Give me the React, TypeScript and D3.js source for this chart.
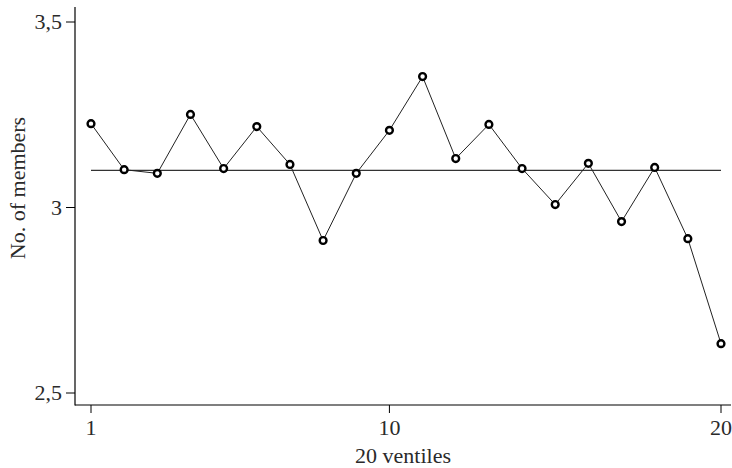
import React from "react";
import * as d3 from "d3";

const ventiles: number[] = [1, 2, 3, 4, 5, 6, 7, 8, 9, 10, 11, 12, 13, 14, 15, 16, 17, 18, 19, 20];
const members: number[] = [3.226, 3.102, 3.092, 3.251, 3.105, 3.218, 3.116, 2.911, 3.092, 3.208, 3.353, 3.132, 3.224, 3.105, 3.008, 3.119, 2.962, 3.108, 2.916, 2.633];
const meanValue = 3.1;
const xTicks: number[] = [1, 10, 20];
const yTicks: number[] = [2.5, 3, 3.5];
const yTickLabels: string[] = ["2,5", "3", "3,5"];
const xTitle = "20 ventiles";
const yTitle = "No. of members";

export default function App() {
  const W = 732, H = 468;
  const x = d3.scaleLinear().domain([1, 20]).range([91, 721]);
  const y = d3.scaleLinear().domain([2.5, 3.5]).range([393, 22]);
  const axisX = 75, axisY = 405;
  const font = "'Liberation Serif', 'DejaVu Serif', serif";
  const line = d3.line<number>().x((_, i) => x(ventiles[i])).y((d) => y(d));
  return (
    <svg width={W} height={H} style={{ position: "absolute", left: 0, top: 0, display: "block", background: "#fff" }}>
      <line x1={axisX} x2={axisX} y1={7} y2={axisY + 0.5} stroke="#000" strokeWidth={1.2} />
      <line x1={axisX} x2={731} y1={axisY} y2={axisY} stroke="#000" strokeWidth={1.2} />
      {yTicks.map((t, i) => (
        <g key={"y" + t}>
          <line x1={66} x2={axisX} y1={y(t)} y2={y(t)} stroke="#000" strokeWidth={1} />
          <text x={62} y={y(t) + 7} textAnchor="end" fontFamily={font} fontSize={22} fill="#2a2a2a">{yTickLabels[i]}</text>
        </g>
      ))}
      {xTicks.map((t) => (
        <g key={"x" + t}>
          <line x1={x(t)} x2={x(t)} y1={axisY} y2={413} stroke="#000" strokeWidth={1} />
          <text x={x(t)} y={435} textAnchor="middle" fontFamily={font} fontSize={22} fill="#2a2a2a">{t}</text>
        </g>
      ))}
      <text x={403} y={463} textAnchor="middle" fontFamily={font} fontSize={22} fill="#2a2a2a">{xTitle}</text>
      <text transform={`translate(25, ${188}) rotate(-90)`} textAnchor="middle" fontFamily={font} fontSize={22} fill="#2a2a2a">{yTitle}</text>
      <line x1={x(1)} x2={x(20)} y1={y(meanValue)} y2={y(meanValue)} stroke="#333" strokeWidth={1.3} />
      <path d={line(members) || ""} fill="none" stroke="#222" strokeWidth={1} />
      {members.map((v, i) => (
        <circle key={i} cx={x(ventiles[i])} cy={y(v)} r={3.4} fill="#fff" stroke="#000" strokeWidth={2.4} />
      ))}
    </svg>
  );
}
